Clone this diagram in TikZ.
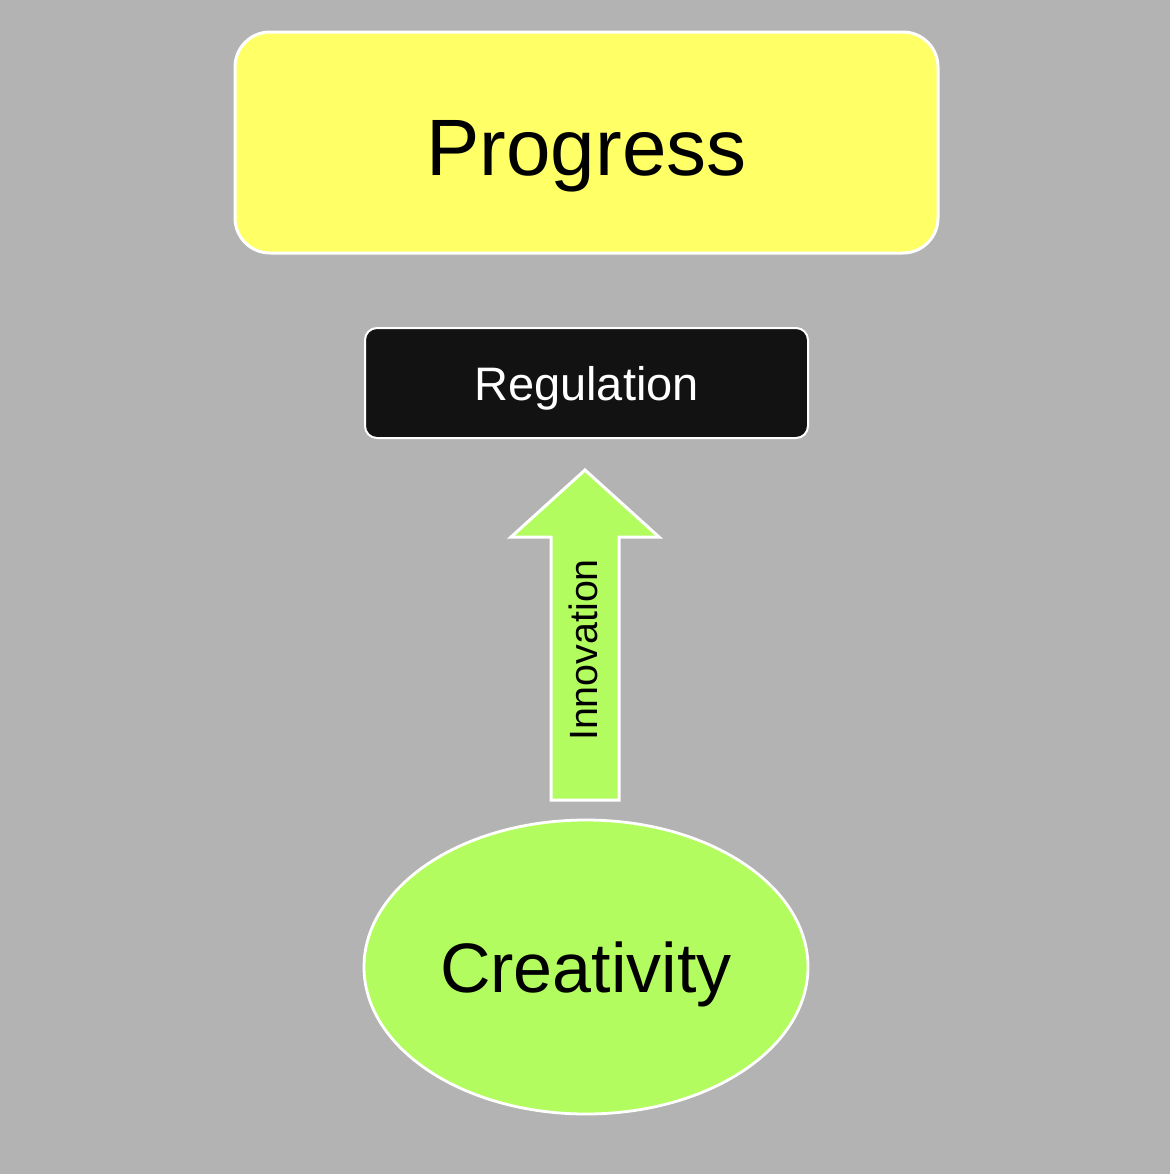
\documentclass[tikz,border=0pt]{standalone}
\usepackage{fontspec}
\setmainfont{Liberation Sans}
\usepackage{xcolor}
\usepackage{tikz}
\usetikzlibrary{shapes,arrows,positioning}

\definecolor{bggray}{HTML}{B3B3B3}
\definecolor{progyellow}{HTML}{FFFF66}
\definecolor{regblack}{HTML}{121212}
\definecolor{creagreen}{HTML}{B3FC5F}

\begin{document}
\begin{tikzpicture}[
    x=0.5pt, y=-0.5pt,
    goalbox/.style={rectangle, draw=white, line width=1.5pt, fill=progyellow, rounded corners=17.5pt, minimum width=351.5pt, minimum height=110.5pt, text depth=0pt, text height=32.5pt, font=\fontsize{40}{48}\selectfont},
    rulebox/.style={rectangle, draw=white, line width=1pt, fill=regblack, text=white, rounded corners=6pt, minimum width=221.5pt, minimum height=55pt, text depth=0pt, text height=17pt, font=\fontsize{23.5}{28}\selectfont},
    source/.style={ellipse, draw=white, line width=1.4pt, fill=creagreen, minimum width=222pt, minimum height=147pt, text depth=0pt, text height=25.5pt, font=\fontsize{35}{42}\selectfont},
    blockarrow/.style={draw=white, line width=1.5pt, fill=creagreen, line join=miter},
    arrowlabel/.style={rotate=90, inner sep=0pt, text depth=0pt, text height=14pt, font=\fontsize{19.7}{24}\selectfont}
]

% background
\fill[bggray] (0,0) rectangle (1170,1174);

% Progress (top)
\node[goalbox] (progress) at (586.5,142.5) {Progress};

% Regulation
\node[rulebox] (regulation) at (586.5,383) {Regulation};

% Creativity (bottom)
\node[source] (creativity) at (586,967) {Creativity};

% Innovation arrow
\draw[blockarrow] (551,800) -- (551,537) -- (511,537) -- (585,470) -- (659,537) -- (619,537) -- (619,800) -- cycle;
\node[arrowlabel] (innovation) at (583,650) {Innovation};

\end{tikzpicture}
\end{document}
